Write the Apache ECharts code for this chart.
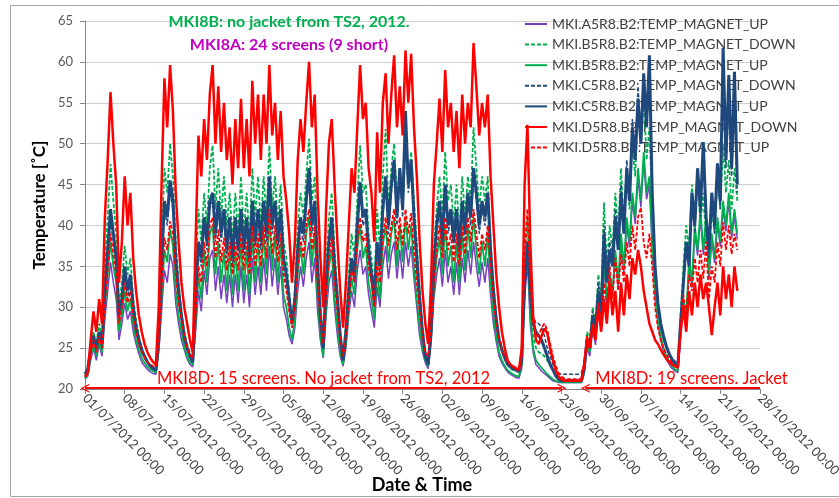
<!DOCTYPE html>
<html>
<head>
<meta charset="utf-8">
<script src="https://cdn.jsdelivr.net/npm/echarts@6/dist/echarts.min.js"></script>
<style>
  html, body { margin: 0; padding: 0; background: #ffffff; }
  #chart { width: 839px; height: 498px; }
</style>
</head>
<body>
<div id="chart"></div>
<script>
// Magnet temperatures, sampled every 12 hours from 01/07/2012 00:00 (x = days since start)
const STEP_DAYS = 0.5;

const TICK_LABELS = [
  '01/07/2012 00:00', '08/07/2012 00:00', '15/07/2012 00:00', '22/07/2012 00:00',
  '29/07/2012 00:00', '05/08/2012 00:00', '12/08/2012 00:00', '19/08/2012 00:00',
  '26/08/2012 00:00', '02/09/2012 00:00', '09/09/2012 00:00', '16/09/2012 00:00',
  '23/09/2012 00:00', '30/09/2012 00:00', '07/10/2012 00:00', '14/10/2012 00:00',
  '21/10/2012 00:00', '28/10/2012 00:00'
];

const SERIES_NAMES = [
  'MKI.A5R8.B2:TEMP_MAGNET_UP',
  'MKI.B5R8.B2:TEMP_MAGNET_DOWN',
  'MKI.B5R8.B2:TEMP_MAGNET_UP',
  'MKI.C5R8.B2:TEMP_MAGNET_DOWN',
  'MKI.C5R8.B2:TEMP_MAGNET_UP',
  'MKI.D5R8.B2:TEMP_MAGNET_DOWN',
  'MKI.D5R8.B2:TEMP_MAGNET_UP'
];

const a5Up = [
  21.2, 21.6, 23.5, 25, 23.5, 25.5, 24, 28.5, 32, 35.5,
  33, 31, 26, 28, 30.5, 28.5, 29.5, 27, 25.5, 24.3,
  23.3, 22.8, 22.4, 22.1, 21.9, 21.8, 24.5, 29.5, 34.5, 33,
  36.5, 35, 30.5, 28, 26, 24.8, 23.7, 23, 22.7, 27,
  32, 29.5, 34.5, 31.5, 36, 37, 32, 35, 31, 34,
  30.5, 34, 30, 34, 30.5, 35, 30.5, 34, 30, 36,
  31.5, 35, 31.5, 36, 32, 37.5, 32.5, 36, 31.5, 35,
  30, 28.5, 26.5, 25.5, 27.5, 32, 35, 32.5, 36, 38,
  33, 36, 29.5, 26, 23.8, 29, 33, 34.5, 30, 26.5,
  24, 22.8, 25, 29, 32, 30, 34.5, 37, 34, 35,
  31.5, 29.5, 27.5, 32.5, 30, 35, 37.5, 33.5, 36.5, 38,
  33.5, 37, 33.5, 38, 35, 37.5, 33.5, 30, 26.5, 24.5,
  23.2, 22.5, 25.5, 31, 34, 36, 32.5, 37, 33, 35,
  31.5, 35.5, 31.5, 36, 33, 37, 34, 38, 35, 32.5,
  35.5, 33, 36, 31.5, 28, 25.8, 24, 23.2, 22.6, 22.1,
  21.8, 21.6, 21.4, 21.3, 22.5, 31, 35.5, 28, 24.5, 23,
  22.6, 22.2, 21.9, 21.6, 21.3, 21, 20.9, 20.8, 20.8, 20.8,
  20.8, 20.8, 20.8, 20.8, 20.8, 20.8, 21.8, 25, 24, 27.3,
  25.4, 30.3, 27.4, 35, 30.4, 33.3, 31.4, 36.2, 32.4, 38,
  34.3, 40, 37.3, 43, 40.2, 45.8, 42.2, 47.8, 43.2, 45,
  37, 31.3, 28, 26, 24.6, 23.6, 23, 22.5, 22.2, 22,
  26.3, 30.3, 28.4, 35.2, 32.4, 39, 36.3, 41, 36.4, 40,
  33.4, 38.2, 35.4, 40.2, 37.4, 42, 39.3, 43, 38.4, 41.2,
  38.3
];

const b5Down = [
  21.5, 22, 25, 27, 25.5, 28, 26, 35, 41, 47.5,
  43, 39, 30, 33, 37.5, 34, 36, 31, 28.5, 26.5,
  25, 24, 23.3, 22.8, 22.5, 22.3, 27, 38, 47, 44,
  50, 46, 38, 33, 29.5, 27, 25.5, 24.5, 23.5, 33,
  42, 38, 44, 40, 47, 49.8, 42, 47, 41, 46,
  40, 44, 38, 44, 39, 46, 39, 44, 38, 47,
  41, 46, 40, 46, 41, 49.8, 42, 46, 40, 45,
  38, 36, 32, 28, 32, 40, 44, 41, 46, 50.6,
  43, 46, 37, 30, 26, 35, 41, 44, 37, 32,
  27, 24, 28, 34, 39, 36, 43, 49.8, 44, 45,
  39, 36, 32, 42, 37, 46, 51.8, 42, 47, 50,
  43, 47, 42, 50, 45, 49, 43, 38, 32, 27.5,
  24.5, 23.3, 28, 37, 42, 46, 41, 49, 43, 45,
  40, 45, 39, 46, 41, 46, 43, 52, 47, 42,
  46, 43, 46, 38, 33, 29, 26.5, 25, 23.8, 23,
  22.5, 22.3, 22.2, 22, 23, 36, 41, 31, 26.5, 25,
  24.5, 24.3, 24, 23.5, 23, 22.3, 21.8, 21.3, 21, 21,
  21, 21, 21, 21, 21, 21, 22.5, 27, 26, 30,
  28, 34, 31, 42.8, 35, 40, 37, 44, 39, 47,
  40, 46, 42, 50, 46, 55, 50, 56, 48, 52,
  42, 35, 30, 27.5, 26, 25, 24.3, 23.7, 23.2, 22.8,
  29, 35, 40, 37, 45, 41, 46, 40, 44, 38,
  36, 42, 39, 46, 42, 50, 44, 48, 42, 47,
  43
];

const b5Up = [
  21.3, 21.8, 24, 25.5, 24, 26, 24.5, 30, 34, 38,
  35, 33, 27, 29, 32, 29.5, 31, 28, 26, 24.8,
  23.8, 23.2, 22.7, 22.4, 22.2, 22, 25, 31, 37, 35.5,
  39.5, 37.5, 32, 29, 27, 25.2, 24, 23.3, 23, 28,
  34, 31, 37, 33, 39, 40, 34, 38, 33, 37,
  32, 37, 31.5, 37, 32, 38, 32, 37, 31.5, 39,
  33, 38, 33, 39, 34, 41, 34.5, 39, 33, 38,
  31.5, 30, 27.5, 26, 28.5, 34, 37.5, 34, 39, 41,
  35, 39, 31, 26.5, 24, 30, 35, 37, 31, 27.5,
  24.5, 23, 25.5, 30, 33.5, 31.5, 37, 40, 36, 37.5,
  33, 31, 28.5, 34.5, 31, 37.5, 40, 35.5, 39, 41,
  35, 40, 35.5, 41, 37, 40, 35, 31, 27.5, 25,
  23.5, 22.8, 26, 32, 36, 38.5, 34, 40, 35, 37.5,
  33, 38, 33, 39, 34.5, 40, 36, 41, 37, 34,
  38, 35, 39, 33, 29, 26.5, 24.5, 23.5, 22.8, 22.3,
  22, 21.8, 21.6, 21.5, 23, 33, 38, 29, 25, 23.5,
  23, 22.6, 22.2, 21.8, 21.5, 21.2, 21, 20.9, 20.8, 20.8,
  20.8, 20.8, 20.8, 20.8, 20.8, 20.8, 22, 25.5, 24.5, 28,
  26, 31, 28, 36, 31, 34, 32, 37, 33, 39,
  35, 41, 38, 44, 41, 47, 43, 49, 44, 46,
  38, 32, 28.5, 26.5, 25, 24, 23.3, 22.8, 22.4, 22.2,
  27, 31, 29, 36, 33, 40, 37, 42, 37, 41,
  34, 39, 36, 41, 38, 43, 40, 44, 39, 42,
  39
];

const c5Down = [
  21.8, 22.3, 24.5, 26, 24.8, 26.5, 25, 31, 36, 40.5,
  38, 35, 28.5, 30.5, 34, 31, 33, 29.5, 27, 25.5,
  24.5, 23.8, 23.2, 22.8, 22.5, 22.3, 25.5, 34, 42, 40,
  44, 42, 35, 31, 28.5, 26, 24.8, 23.8, 23.2, 30,
  37, 35, 40, 37, 42, 43, 38, 42, 38, 41,
  36, 40, 35, 40, 36, 41, 36, 40, 35, 42,
  37, 41, 37, 42, 38, 45, 39, 42, 37, 41,
  35, 33, 30, 27.5, 30, 36, 40, 38, 42, 46,
  39, 42, 34, 28.5, 25, 32, 37, 40, 34, 30,
  26, 23.5, 26.5, 31, 35, 33, 39, 44, 40, 41,
  36, 33, 30, 37, 34, 41, 45, 39, 44, 47,
  40, 46, 41, 50, 44, 47, 40, 35, 30, 26.5,
  24, 23, 26.5, 34, 39, 42, 37, 44, 39, 41,
  37, 41, 36, 42, 38, 43, 40, 46, 43, 39,
  42, 40, 43, 36, 31, 28, 25.8, 24.6, 23.7, 23,
  22.8, 22.6, 22.4, 22.3, 23.5, 32, 37, 33, 29, 28,
  28, 27.5, 26.5, 25, 24, 23, 22.3, 21.9, 21.8, 21.8,
  21.8, 21.8, 21.8, 21.8, 21.8, 22, 23, 26.5, 25.5, 29.5,
  27.5, 33, 30, 40, 34, 38, 36, 42, 38, 45,
  40, 48, 44, 53, 49, 57, 51, 58, 53, 57,
  43, 34.5, 30, 27.5, 26, 25, 24.3, 23.8, 23.4, 23.2,
  28, 33, 37, 35, 43, 39, 46, 41, 48, 40,
  36, 43, 39, 46, 42, 56, 47, 55, 46, 54,
  44
];

const c5Up = [
  21.8, 22.5, 25, 26.5, 25, 27, 25.5, 32, 37, 42,
  39, 36, 29, 31, 35, 32, 34, 30, 27.5, 26,
  24.8, 24, 23.3, 22.8, 22.5, 22.3, 26, 35, 43, 41,
  45.5, 43, 36, 32, 29, 26.5, 25, 24, 23.3, 31,
  38, 36, 41, 38, 43, 44, 39, 43, 39, 42,
  37, 41, 36, 41, 37, 42, 37, 41, 36, 43,
  38, 42, 38, 43, 39, 46, 40, 43, 38, 42,
  36, 34, 31, 28, 31, 37, 41, 39, 43, 47,
  40, 43, 35, 29, 25, 33, 38, 41, 35, 31,
  26.5, 23.5, 27, 32, 36, 34, 40, 45.3, 41, 42,
  37, 34, 31, 38, 35, 42, 46, 40, 45, 48,
  41, 47, 42, 54, 45, 48, 41, 36, 31, 27,
  24, 23, 27, 35, 40, 43, 38, 45, 40, 42,
  38, 42, 37, 43, 39, 44, 41, 47, 44, 40,
  43, 41, 44, 37, 32, 28.5, 26, 24.8, 23.8, 23,
  22.7, 22.5, 22.3, 22.2, 23.5, 33, 38, 32, 28, 27,
  26.5, 26, 25, 24, 23, 22.3, 21.6, 21.2, 21, 21,
  21, 21, 21, 21, 21, 21, 22.5, 26, 25, 29,
  27, 32, 29, 39, 33, 37, 35, 41, 37, 44,
  39, 47, 43, 52, 48, 55.5, 50, 58.6, 52, 60.8,
  44, 35, 30.5, 28, 26.5, 25.2, 24.3, 23.6, 23, 22.7,
  28, 33, 38, 35, 44, 40, 47, 42, 50.2, 41,
  37, 44, 40, 47.6, 43, 61.7, 48, 58.4, 47, 58.8,
  45
];

const d5Down = [
  21.5, 22, 26, 29.5, 27, 31, 28, 41, 48, 56.3,
  50, 45, 33, 38, 46, 40, 44, 36, 32, 29,
  27, 25.5, 24.5, 23.8, 23.3, 23, 30, 45, 58, 52,
  59.6, 54, 44, 38, 33, 30, 28, 26, 24.5, 38,
  51, 46, 53, 48, 56, 59.6, 50, 57, 49, 55,
  48, 52, 45, 53, 47, 55.5, 47, 53, 46, 57.7,
  50, 56, 48, 56, 50, 59.6, 51, 55, 48, 54,
  46, 43, 39, 33, 38, 48, 53, 49, 55, 60,
  52, 56, 44, 36, 30, 42, 50, 53, 45, 38,
  32, 27.5, 33, 40, 47, 44, 52, 59.6, 53, 55,
  47, 44, 38, 51.4, 44, 55, 58.6, 50, 56, 60.8,
  52, 57, 51, 61.4, 55, 61, 52, 46, 38, 32,
  28, 25.5, 33, 45, 50, 55.5, 49, 59, 52, 55,
  49, 54, 47, 56, 50, 55, 52, 62.3, 57, 51,
  55, 52, 56, 46, 40, 34, 30, 27, 25, 23.5,
  23, 22.7, 22.5, 22.3, 25, 45, 52.3, 38, 29, 26,
  25.5, 26.5, 27.4, 26.8, 25, 23.5, 22.3, 21.5, 21.2, 21,
  21, 21, 21, 21, 21, 21, 23, 26, 25, 28,
  26, 30, 27, 31, 28, 33, 29, 32, 27, 33,
  29, 34, 31, 36, 34, 37, 35, 32, 30, 28,
  27, 26, 25.5, 24.8, 24.2, 23.7, 23.3, 23, 22.8, 22.6,
  27, 30, 27, 32, 29, 33, 30, 34, 31, 33,
  30, 26.6, 30, 33, 29, 35, 31, 34, 30, 35,
  32
];

const d5Up = [
  21.5, 22, 24.5, 26, 24.5, 26.5, 25, 30.5, 34.5, 39,
  36.5, 34, 28, 30, 33, 30.5, 32, 29, 27, 25.5,
  24.5, 23.8, 23.3, 23, 22.8, 22.7, 25.5, 32, 38.5, 37,
  40.5, 39, 34, 30.5, 28.5, 26.5, 25, 24.2, 23.8, 29,
  35, 33, 38, 35, 40, 41, 36, 39.5, 35.5, 38.5,
  34.5, 38, 34, 38, 34.5, 39, 34.5, 38, 34, 40,
  35, 39, 35, 40, 36, 42, 36.5, 40, 35.5, 39,
  34, 32, 29.5, 27.5, 30, 35, 38.5, 36, 40, 42,
  37, 40, 33, 28.5, 25.5, 31.5, 36, 38.5, 33, 29.5,
  26, 24, 26.5, 31, 34.5, 33, 38, 41, 38, 39,
  35, 33, 30, 35.5, 33, 38.5, 41, 37.5, 40, 42,
  37, 41, 37.5, 42, 39, 41.5, 37, 33, 29.5, 26.5,
  24.5, 24, 27, 33, 37, 40, 36, 41, 37, 39,
  35.5, 39, 35, 40, 36.5, 41, 38, 42, 39, 36,
  39, 37, 40, 35, 31, 28, 26, 24.8, 24, 23.3,
  23, 22.8, 22.6, 22.5, 24, 36, 42, 33, 28, 26.5,
  26.5, 27.5, 28, 27.2, 25.5, 24, 22.8, 22, 21.5, 21.3,
  21.2, 21.2, 21.2, 21.2, 21.2, 21.2, 23, 26.5, 25, 28,
  26.5, 30.5, 28, 33, 29.5, 35, 31, 36, 32, 36.5,
  33, 38, 35, 40, 37, 41, 42.2, 38, 36, 39,
  35, 30, 27.5, 26, 25, 24.3, 23.7, 23.2, 22.8, 22.5,
  27.5, 31.5, 29, 34, 32, 36, 33, 37, 33.5, 38,
  31, 35, 33, 38, 35, 40.4, 37, 40, 36.5, 39,
  37
];

// Period annotations along the bottom of the plot (days since 01/07/2012)
const PERIODS = [
  { text: 'MKI8D: 15 screens. No jacket from TS2, 2012', from: 0, to: 84.1, heads: ['arrow', 'arrow'] },
  { text: 'MKI8D: 19 screens. Jacket', from: 88.2, to: 119, heads: ['arrow', 'none'] }
];

const FONT = 'Lato, "Open Sans", sans-serif';
const CHEVRON = 'path://M0,10 L5,0 L10,10 L8.6,10 L5,2.8 L1.4,10 Z';

const toPoints = vals => vals.map((v, i) => [i * STEP_DAYS, v]);

function lineSeries(name, values, color, width, dashed) {
  return {
    name: name,
    type: 'line',
    z: 3,
    data: toPoints(values),
    symbol: 'none',
    showSymbol: false,
    silent: true,
    animation: false,
    lineStyle: { color: color, width: width, type: dashed ? [4, 2] : 'solid' },
    itemStyle: { color: color },
    emphasis: { disabled: true }
  };
}

const series = [
  lineSeries(SERIES_NAMES[0], a5Up, '#7A3FBF', 1.5, false),
  lineSeries(SERIES_NAMES[1], b5Down, '#00B050', 1.8, true),
  lineSeries(SERIES_NAMES[2], b5Up, '#00B050', 1.8, false),
  lineSeries(SERIES_NAMES[3], c5Down, '#1F497D', 1.5, true),
  lineSeries(SERIES_NAMES[4], c5Up, '#1F497D', 3, false),
  lineSeries(SERIES_NAMES[5], d5Down, '#FF0000', 2.5, false),
  lineSeries(SERIES_NAMES[6], d5Up, '#FF0000', 1.8, true)
];

series[6].markLine = {
  silent: true,
  animation: false,
  symbolSize: [9, 9],
  lineStyle: { color: '#FF0000', width: 2, type: 'solid' },
  label: { show: false },
  data: PERIODS.map((p, k) => [
    {
      coord: [p.from, 20.1],
      symbol: p.heads[0] === 'arrow' ? CHEVRON : 'none',
      label: {
        show: true,
        formatter: p.text,
        position: k === 0 ? 'insideMiddleTop' : 'insideStartTop',
        distance: [k === 0 ? 0 : 10, 1],
        color: '#FF0000',
        fontFamily: FONT,
        fontSize: 16.5
      }
    },
    { coord: [p.to, 20.1], symbol: p.heads[1] === 'arrow' ? CHEVRON : 'none' }
  ])
};

const chart = echarts.init(document.getElementById('chart'));
chart.setOption({
  backgroundColor: '#ffffff',
  animation: false,
  textStyle: { fontFamily: FONT },
  grid: { left: 85, right: 79, top: 21, bottom: 109, containLabel: false, outerBoundsMode: 'none' },
  legend: {
    data: SERIES_NAMES,
    orient: 'vertical',
    left: 519,
    top: 12,
    z: 1,
    itemWidth: 22,
    itemHeight: 14,
    itemGap: 6.6,
    selectedMode: false,
    itemStyle: { opacity: 0 },
    textStyle: { fontFamily: FONT, fontSize: 14, color: '#404040' }
  },
  xAxis: {
    type: 'value',
    min: 0,
    max: 119,
    interval: 7,
    axisLine: { show: true, onZero: false, lineStyle: { color: '#868686', width: 1 } },
    axisTick: { show: true, length: 5, lineStyle: { color: '#868686' } },
    splitLine: { show: false },
    axisLabel: {
      rotate: -45,
      margin: 7,
      fontFamily: FONT,
      fontSize: 13,
      color: '#404040',
      formatter: v => TICK_LABELS[Math.round(v / 7)] || ''
    }
  },
  yAxis: {
    type: 'value',
    min: 20,
    max: 65,
    interval: 5,
    axisLine: { show: true, lineStyle: { color: '#868686', width: 1 } },
    axisTick: { show: true, length: 5, lineStyle: { color: '#868686' } },
    splitLine: { show: true, lineStyle: { color: '#CFCFCF', width: 1 } },
    axisLabel: { margin: 12, fontFamily: FONT, fontSize: 13, color: '#595959' }
  },
  graphic: [
    {
      type: 'rect', z: 0, silent: true,
      shape: { x: 10.5, y: 5.5, width: 840, height: 491 },
      style: { fill: 'none', stroke: '#A6A6A6', lineWidth: 1 }
    },
    {
      type: 'text', x: 289, y: 22, silent: true, z: 10,
      style: { text: 'MKI8B: no jacket from TS2, 2012.', fill: '#00B050', font: 'bold 16px ' + FONT, align: 'center', verticalAlign: 'middle' }
    },
    {
      type: 'text', x: 289, y: 45, silent: true, z: 10,
      style: { text: 'MKI8A: 24 screens (9 short)', fill: '#C000C0', font: 'bold 16px ' + FONT, align: 'center', verticalAlign: 'middle' }
    },
    {
      type: 'text', x: 40, y: 205, rotation: Math.PI / 2, silent: true,
      style: { text: 'Temperature [˚C]', fill: '#000000', font: 'bold 17px ' + FONT, align: 'center', verticalAlign: 'middle' }
    },
    {
      type: 'text', x: 422, y: 485, silent: true,
      style: { text: 'Date & Time', fill: '#000000', font: 'bold 18px ' + FONT, align: 'center', verticalAlign: 'middle' }
    }
  ],
  series: series
});
</script>
</body>
</html>
